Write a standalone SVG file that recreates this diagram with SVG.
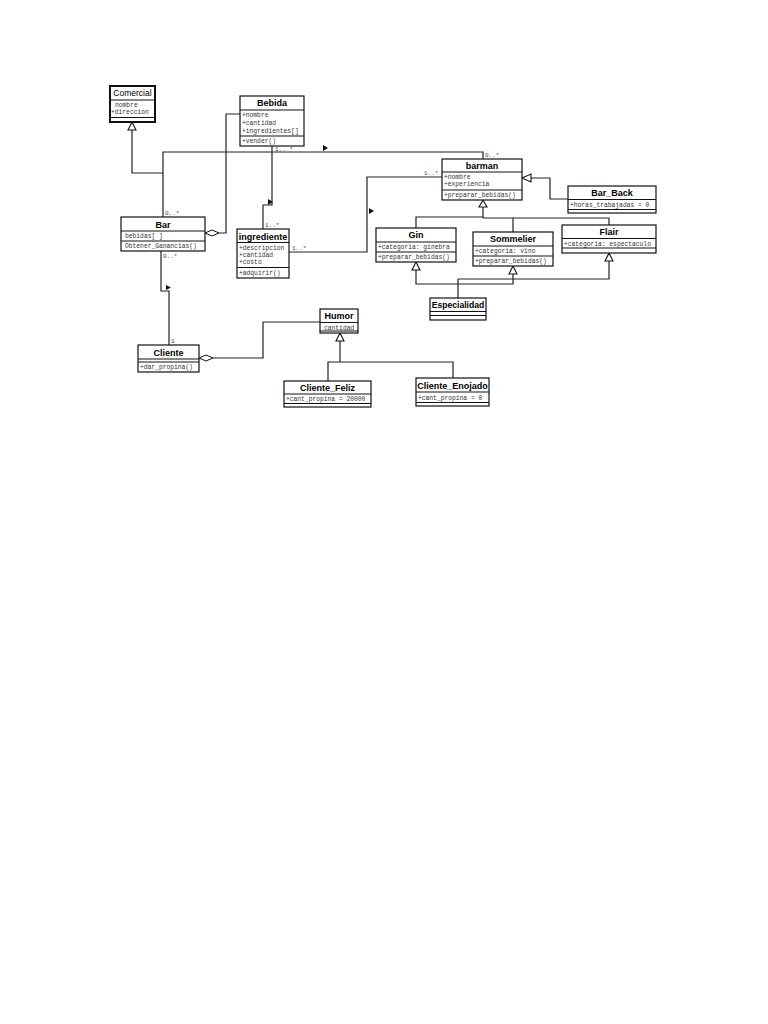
<svg xmlns="http://www.w3.org/2000/svg" width="768" height="1024" viewBox="0 0 768 1024">
<style>
.box{fill:#fff;stroke:#111;stroke-width:1.2}
.div{stroke:#111;stroke-width:1}
.t{font-family:"Liberation Sans",Arial,sans-serif;font-weight:bold;font-size:9px;fill:#000;text-anchor:middle}
.tr{font-family:"Liberation Sans",Arial,sans-serif;font-size:8.5px;fill:#000;text-anchor:middle}
.a{font-family:"Liberation Mono","Courier New",monospace;font-size:6.3px;fill:#333}
.l{font-family:"Liberation Mono","Courier New",monospace;font-size:6px;fill:#444}
.c{fill:none;stroke:#222;stroke-width:1.2}
.gen{fill:#fff;stroke:#111;stroke-width:1.1}
.agg{fill:#fff;stroke:#111;stroke-width:1}
.nav{fill:#111}
</style>
<rect width="768" height="1024" fill="#fff"/>
<g id="connectors">
  <path class="c" d="M163,173 H132 V130"/>
  <polygon class="gen" points="132,122 128,130 136,130"/>
  <path class="c" d="M163,217 V152 H483 V159"/>
  <polygon class="nav" points="323,145 328,148 323,151"/>
  <text class="l" x="165" y="215">0..*</text>
  <text class="l" x="485" y="157">0..*</text>
  <path class="c" d="M219,233 H226 V114 H240"/>
  <polygon class="agg" points="205,233 212,230 219,233 212,236"/>
  <path class="c" d="M272,146 V205 H263 V229"/>
  <polygon class="nav" points="268,199 268,205 273,202"/>
  <text class="l" x="275" y="150.5">1.. *</text>
  <text class="l" x="265" y="227">1..*</text>
  <path class="c" d="M289,252 H367 V177 H442"/>
  <polygon class="nav" points="369,208 369,214 374,211"/>
  <text class="l" x="292" y="250">1..*</text>
  <text class="l" x="424" y="175">1..*</text>
  <path class="c" d="M161,251 V291 H169 V345"/>
  <polygon class="nav" points="166,285 166,290 171,287.5"/>
  <text class="l" x="163" y="258">0..*</text>
  <text class="l" x="171" y="343">1</text>
  <path class="c" d="M213,358 H263 V322 H320"/>
  <polygon class="agg" points="199,358 206,355 213,358 206,361"/>
  <path class="c" d="M340,341 V362"/>
  <path class="c" d="M328,381 V362 H453 V378"/>
  <polygon class="gen" points="340,333 336,341 344,341"/>
  <path class="c" d="M483,207 V218"/>
  <path class="c" d="M416,228 V217 H483"/>
  <path class="c" d="M513,232 V218 H483"/>
  <path class="c" d="M609,225 V218 H513"/>
  <polygon class="gen" points="483,200 479,207 487,207"/>
  <path class="c" d="M531,178 H550 V199 H568"/>
  <polygon class="gen" points="522,178 531,174 531,182"/>
  <path class="c" d="M458,298 V279"/>
  <path class="c" d="M416,270 V284 H513 V274"/>
  <path class="c" d="M458,279 H609 V261"/>
  <polygon class="gen" points="416,262 412,270 420,270"/>
  <polygon class="gen" points="513,266 509,274 517,274"/>
  <polygon class="gen" points="609,253 605,261 613,261"/>
</g>
<g id="Comercial">
  <rect class="box" x="110" y="86" width="45" height="36" style="stroke-width:2"/>
  <text class="tr" x="132.5" y="96">Comercial</text>
  <line class="div" x1="110" y1="100" x2="155" y2="100"/>
  <text class="a" x="115" y="107">nombre</text>
  <text class="a" x="111" y="114">+direccion</text>
  <line class="div" x1="110" y1="117.5" x2="155" y2="117.5"/>
</g>
<g id="Bebida">
  <rect class="box" x="240" y="96" width="64" height="50"/>
  <text class="t" x="272" y="106">Bebida</text>
  <line class="div" x1="240" y1="110" x2="304" y2="110"/>
  <text class="a" x="242" y="117">+nombre</text>
  <text class="a" x="242" y="125">+cantidad</text>
  <text class="a" x="242" y="133">+ingredientes[]</text>
  <line class="div" x1="240" y1="136" x2="304" y2="136"/>
  <text class="a" x="242" y="143">+vender()</text>
</g>
<g id="Bar">
  <rect class="box" x="121" y="217" width="84" height="34"/>
  <text class="t" x="163" y="228">Bar</text>
  <line class="div" x1="121" y1="231" x2="205" y2="231"/>
  <text class="a" x="125" y="238">bebidas[ ]</text>
  <line class="div" x1="121" y1="241" x2="205" y2="241"/>
  <text class="a" x="125" y="248">Obtener_Ganancias()</text>
</g>
<g id="ingrediente">
  <rect class="box" x="237" y="229" width="52" height="49"/>
  <text class="t" x="263" y="240">ingrediente</text>
  <line class="div" x1="237" y1="242.5" x2="289" y2="242.5"/>
  <text class="a" x="239" y="250">+descripcion</text>
  <text class="a" x="239" y="257">+cantidad</text>
  <text class="a" x="239" y="264">+costo</text>
  <line class="div" x1="237" y1="267.5" x2="289" y2="267.5"/>
  <text class="a" x="239" y="275">+adquirir()</text>
</g>
<g id="Cliente">
  <rect class="box" x="138" y="345" width="61" height="27"/>
  <text class="t" x="168.5" y="356">Cliente</text>
  <line class="div" x1="138" y1="359" x2="199" y2="359"/>
  <line class="div" x1="138" y1="362" x2="199" y2="362"/>
  <text class="a" x="140" y="369">+dar_propina()</text>
</g>
<g id="Humor">
  <rect class="box" x="320" y="309" width="38" height="24"/>
  <text class="t" x="339" y="319">Humor</text>
  <line class="div" x1="320" y1="322.5" x2="358" y2="322.5"/>
  <text class="a" x="324" y="329.5">cantidad</text>
  <line class="div" x1="320" y1="331" x2="358" y2="331"/>
</g>
<g id="Cliente_Feliz">
  <rect class="box" x="284" y="381" width="87" height="26"/>
  <text class="t" x="327.5" y="391">Cliente_Feliz</text>
  <line class="div" x1="284" y1="394" x2="371" y2="394"/>
  <text class="a" x="286" y="401">+cant_propina = 20000</text>
  <line class="div" x1="284" y1="403.5" x2="371" y2="403.5"/>
</g>
<g id="Cliente_Enojado">
  <rect class="box" x="416" y="378" width="73" height="28"/>
  <text class="t" x="452.5" y="389">Cliente_Enojado</text>
  <line class="div" x1="416" y1="392" x2="489" y2="392"/>
  <text class="a" x="418" y="400">+cant_propina = 0</text>
  <line class="div" x1="416" y1="402.5" x2="489" y2="402.5"/>
</g>
<g id="barman">
  <rect class="box" x="442" y="159" width="80" height="41"/>
  <text class="t" x="482" y="169">barman</text>
  <line class="div" x1="442" y1="172" x2="522" y2="172"/>
  <text class="a" x="444" y="179">+nombre</text>
  <text class="a" x="444" y="186">+experiencia</text>
  <line class="div" x1="442" y1="190" x2="522" y2="190"/>
  <text class="a" x="444" y="197">+preparar_bebidas()</text>
</g>
<g id="Bar_Back">
  <rect class="box" x="568" y="186" width="88" height="27"/>
  <text class="t" x="612" y="196">Bar_Back</text>
  <line class="div" x1="568" y1="199.5" x2="656" y2="199.5"/>
  <text class="a" x="570" y="207">+horas_trabajadas = 0</text>
  <line class="div" x1="568" y1="209.5" x2="656" y2="209.5"/>
</g>
<g id="Gin">
  <rect class="box" x="376" y="228" width="80" height="34"/>
  <text class="t" x="416" y="238">Gin</text>
  <line class="div" x1="376" y1="242" x2="456" y2="242"/>
  <text class="a" x="378" y="249">+categoria: ginebra</text>
  <line class="div" x1="376" y1="252" x2="456" y2="252"/>
  <text class="a" x="378" y="259">+preparar_bebidas()</text>
</g>
<g id="Sommelier">
  <rect class="box" x="473" y="232" width="80" height="34"/>
  <text class="t" x="513" y="242">Sommelier</text>
  <line class="div" x1="473" y1="246" x2="553" y2="246"/>
  <text class="a" x="475" y="253">+categoria: vino</text>
  <line class="div" x1="473" y1="256" x2="553" y2="256"/>
  <text class="a" x="475" y="263">+preparar_bebidas()</text>
</g>
<g id="Flair">
  <rect class="box" x="562" y="225" width="94" height="28"/>
  <text class="t" x="609" y="235">Flair</text>
  <line class="div" x1="562" y1="238.5" x2="656" y2="238.5"/>
  <text class="a" x="564" y="245.5">+categoria: espectaculo</text>
  <line class="div" x1="562" y1="248" x2="656" y2="248"/>
</g>
<g id="Especialidad">
  <rect class="box" x="430" y="298" width="56" height="22"/>
  <text class="t" x="458" y="308" style="font-size:8.6px">Especialidad</text>
  <line class="div" x1="430" y1="311.5" x2="486" y2="311.5"/>
  <line class="div" x1="430" y1="315.5" x2="486" y2="315.5"/>
</g>
</svg>
